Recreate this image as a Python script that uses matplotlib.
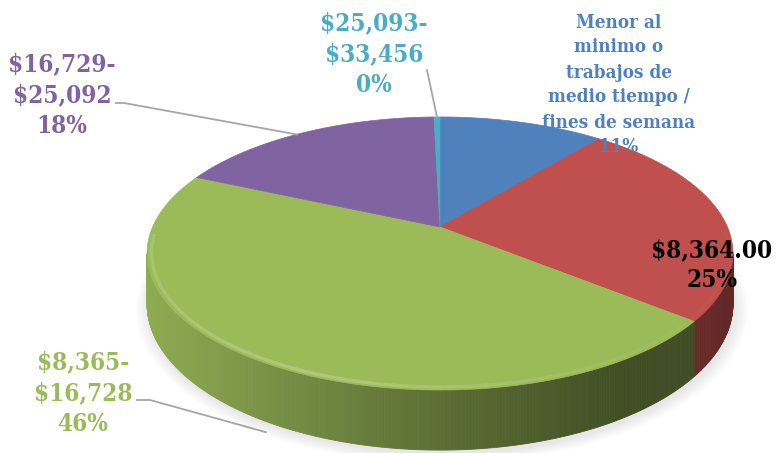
import numpy as np
import matplotlib
matplotlib.use("Agg")
import matplotlib.pyplot as plt
from matplotlib.patches import Polygon
from matplotlib.collections import LineCollection

plt.rcParams['text.parse_math'] = False

# data
categories = ["Menor al\nminimo o\ntrabajos de\nmedio tiempo /\nfines de semana",
              "$8,364.00",
              "$8,365-\n$16,728",
              "$16,729-\n$25,092",
              "$25,093-\n$33,456"]
values = [11, 25, 46, 18, 0.4]
colors = ['#4f81bd', '#c0504d', '#9bbb59', '#8064a2', '#4bacc6']
label_colors = ['#4f81bd', '#000000', '#9bbb59', '#8064a2', '#4bacc6']

# projection of the tilted disc (pixel space)
CX, CY = 440.0, 227.0
A, B, K, H = 287.4, 131.4, 0.194, 48.4


def proj(theta, r=1.0, z=0.0):
    t = np.radians(theta)
    u = r * np.sin(t)
    v = r * np.cos(t)
    den = 1 + K * v
    return CX + A * u / den, CY - B * v / den + z * H / den


def shade(c, f):
    rgb = np.array(matplotlib.colors.to_rgb(c))
    return tuple(np.clip(rgb * f, 0, 1))


def side_factor(x, i):
    f = float(np.interp(x, [145, 300, 450, 620, 740], [0.92, 0.74, 0.58, 0.42, 0.40]))
    if i == 1:  # red wall looks warmer
        f = float(np.interp(x, [690, 740], [0.55, 0.5]))
    return f


fig = plt.figure(figsize=(7.78, 4.53), dpi=100)
ax = fig.add_axes([0, 0, 1, 1])
ax.set_xlim(0, 778)
ax.set_ylim(453, 0)
ax.axis('off')

total = sum(values)
angles = np.cumsum([0] + [v / total * 360 for v in values])

TR = 90 + np.degrees(np.arcsin(K))
TL = 270 - np.degrees(np.arcsin(K))

# soft shadow under the disc
th = np.linspace(0, 360, 200)
for i in range(8):
    s = 1.0 + i * 0.006
    x, y = proj(th, s, 1.0)
    ax.add_patch(Polygon(np.column_stack([x + 2, y + 4]), closed=True,
                         facecolor='#000000', edgecolor='none', alpha=0.012, zorder=1))

# side walls with horizontal gradient
for i in range(len(values)):
    a, b = max(angles[i], TR), min(angles[i + 1], TL)
    if b <= a:
        continue
    ts = np.linspace(a, b, max(int((b - a) * 2), 2))
    for t0, t1 in zip(ts[:-1], ts[1:]):
        x0, y0 = proj(t0)
        x1, y1 = proj(t1)
        bx0, by0 = proj(t0, 1, 1)
        bx1, by1 = proj(t1, 1, 1)
        c = shade(colors[i], side_factor((x0 + x1) / 2, i))
        ax.add_patch(Polygon([(x0, y0), (x1, y1), (bx1, by1), (bx0, by0)], closed=True,
                             facecolor=c, edgecolor=c, lw=0.6, zorder=2))

# top faces
for i in range(len(values)):
    ts = np.linspace(angles[i], angles[i + 1], max(int(angles[i + 1] - angles[i]) * 2, 3))
    x, y = proj(ts)
    pts = [(CX, CY)] + list(zip(x, y))
    ax.add_patch(Polygon(pts, closed=True, facecolor=colors[i], edgecolor=colors[i],
                         lw=0.5, zorder=3))

# bevel highlight along the front rim
ts = np.linspace(TR - 10, TL + 8, 160)
x, y = proj(ts, 0.985)
segs = [[(x[j], y[j]), (x[j + 1], y[j + 1])] for j in range(len(x) - 1)]
seg_cols = []
for j in range(len(x) - 1):
    t = (ts[j] + ts[j + 1]) / 2
    base = colors[2] if angles[2] <= t < angles[3] else colors[1]
    rgb = np.array(matplotlib.colors.to_rgb(base))
    light = rgb + (1 - rgb) * 0.3
    alpha = float(np.interp(x[j], [150, 300, 500, 700], [0.45, 0.7, 0.35, 0.05]))
    seg_cols.append((*light, alpha))
ax.add_collection(LineCollection(segs, colors=seg_cols, linewidths=2.5, zorder=4))

# leader lines
lc = '#a6a6a6'
px, py = proj((angles[3] + angles[4]) / 2, 0.98)
ax.plot([116, 124, px - 8], [103, 103, py], color=lc, lw=1.3, zorder=5)
tx, ty = proj((angles[4] + angles[5]) / 2, 1.0)
ax.plot([427, tx], [70, ty], color=lc, lw=1.3, zorder=5)
gx, gy = proj((angles[2] + angles[3]) / 2, 1.0, 1.0)
ax.plot([137, 150, gx + 6], [400, 400, gy + 13], color=lc, lw=1.3, zorder=5)

# data labels
label_pos = [(619, 85), (712, 265), (83, 393), (62, 95), (374, 54)]
label_size = [13.5, 17.5, 17.5, 17.5, 17.5]
label_ls = [1.5, 1.35, 1.35, 1.35, 1.35]
for i, name in enumerate(categories):
    pct = '{:.0f}%'.format(values[i] / total * 100)
    ax.text(label_pos[i][0], label_pos[i][1], name + '\n' + pct,
            ha='center', va='center', multialignment='center',
            fontsize=label_size[i], fontweight='bold', color=label_colors[i],
            family='DejaVu Serif', fontstretch='condensed',
            linespacing=label_ls[i], zorder=6)

fig.savefig('out.png', dpi=100)
